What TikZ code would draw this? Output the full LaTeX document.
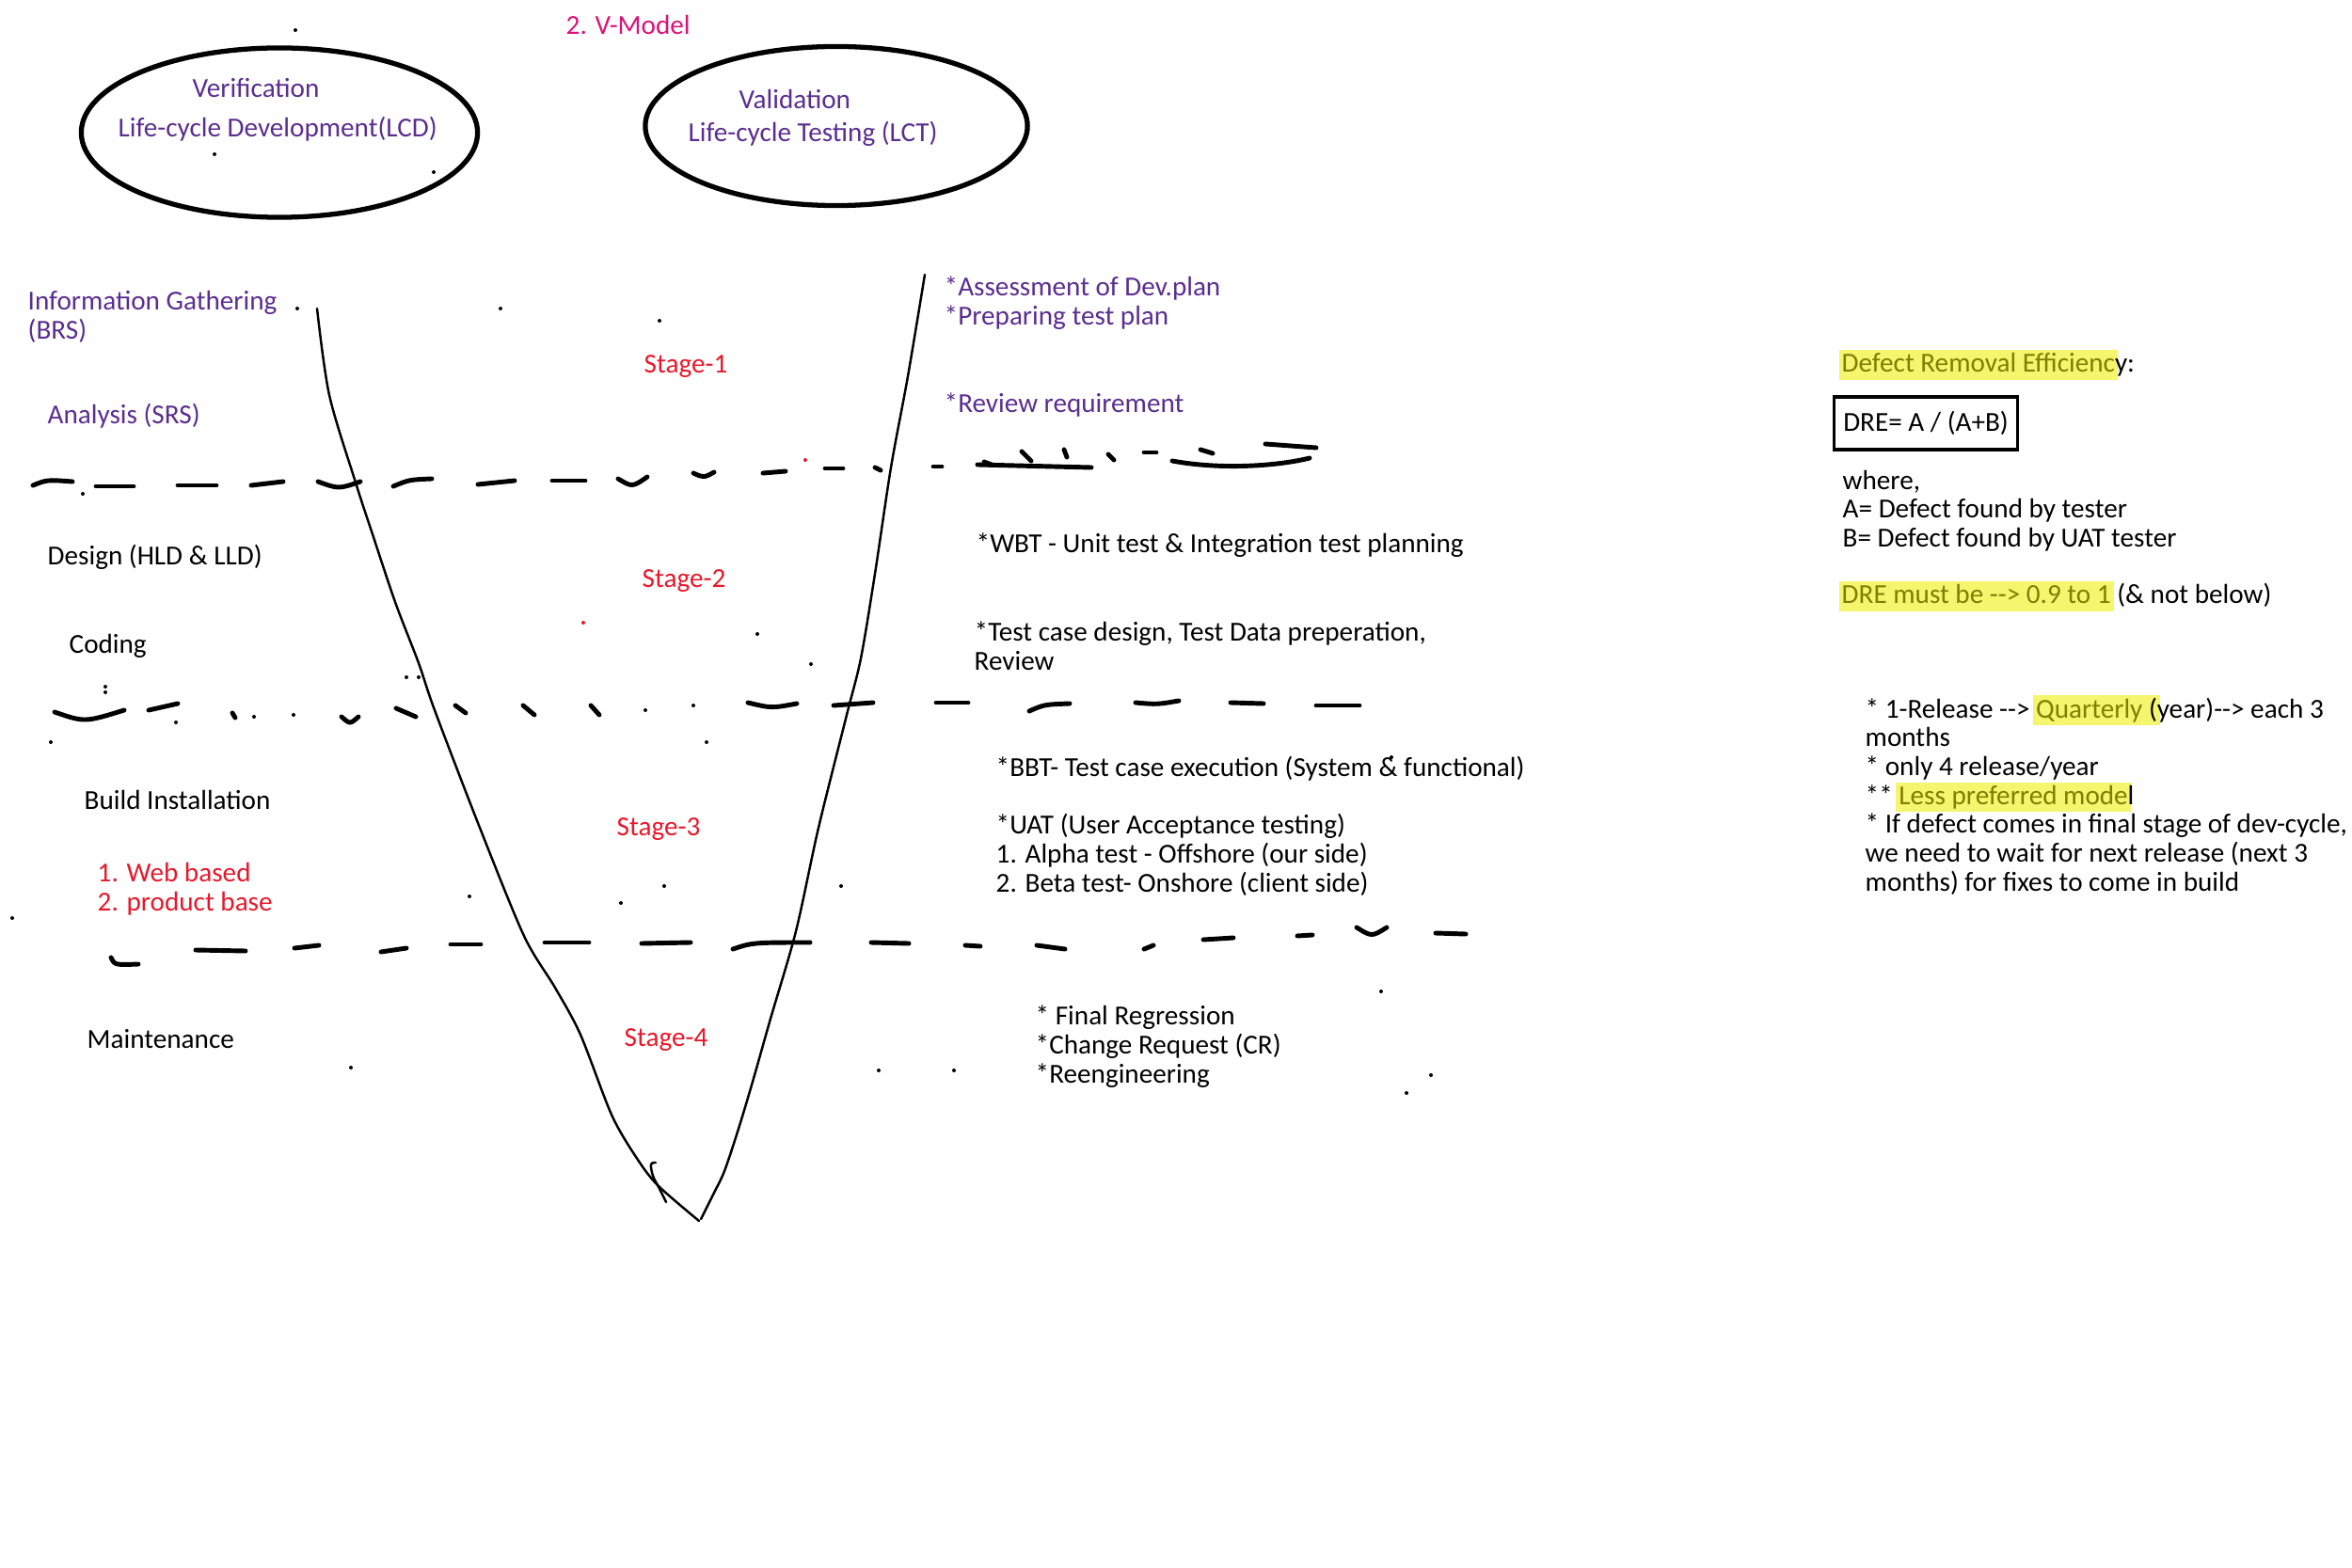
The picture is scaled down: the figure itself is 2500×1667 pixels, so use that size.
\documentclass[tikz,border=0pt]{standalone}
\usepackage{fontspec}
\setmainfont{Carlito}
\usetikzlibrary{shapes.geometric}
\definecolor{vpurple}{HTML}{5B2D90}
\definecolor{vred}{HTML}{E8182C}
\definecolor{vmag}{HTML}{DD1177}
\definecolor{volive}{HTML}{7F7F00}
\definecolor{hlyel}{HTML}{F5F56E}
\newcommand\hlbox[1]{{\setlength{\fboxsep}{0.9pt}\hspace{-0.9pt}\colorbox{hlyel}{\vphantom{Qy}#1}\hspace{-0.9pt}}}
\begin{document}
\begin{tikzpicture}[x=0.01cm,y=-0.01cm,
 lbl/.style={inner sep=0pt, anchor=west, align=left, font=\fontsize{8.3}{8.8}\selectfont},
 pur/.style={lbl, text=vpurple},
 redt/.style={lbl, text=vred},
 stagelbl/.style={inner sep=0pt, text=vred, font=\fontsize{8.3}{8.8}\selectfont},
 panel/.style={lbl, font=\fontsize{8.3}{8.6}\selectfont},
 vline/.style={line width=0.7pt, line cap=round, line join=round},
 dsh/.style={line width=1.4pt, line cap=round},
 ell/.style={draw, ellipse, line width=1.5pt, inner sep=0pt},
 dotp/.style={fill=black},
 dotr/.style={fill=vred}
]
\useasboundingbox[fill=white] (0,0) rectangle (2500,1667);

% title
\node[lbl, text=vmag] (title) at (601,26) {2. V-Model};

% ellipses
\node[ell, minimum width=4.21cm, minimum height=1.80cm] (ellL) at (297,141) {};
\node[ell, minimum width=4.06cm, minimum height=1.69cm] (ellR) at (889,134) {};
\node[pur] (verif) at (204,94) {Verification};
\node[pur] (lcd) at (125,137) {Life-cycle Development(LCD)};
\node[pur] (valid) at (785,105) {Validation};
\node[pur] (lct) at (731,142) {Life-cycle Testing (LCT)};

% left phases
\node[pur] (info) at (29,337) {Information Gathering\\(BRS)};
\node[pur] (anal) at (50,442) {Analysis (SRS)};
\node[lbl] (design) at (50,592) {Design (HLD \& LLD)};
\node[lbl] (coding) at (73,687) {Coding};
\node[lbl] (build) at (89,850) {Build Installation};
\node[redt] (web) at (103,945) {1. Web based\\2. product base};
\node[lbl] (maint) at (92,1105) {Maintenance};

% stages
\node[stagelbl] (st1) at (729,390) {Stage-1};
\node[stagelbl] (st2) at (727,618) {Stage-2};
\node[stagelbl] (st3) at (700,882) {Stage-3};
\node[stagelbl] (st4) at (708,1106) {Stage-4};

% right side testing activities
\node[pur] (assess) at (1003,322) {*Assessment of Dev.plan\\*Preparing test plan};
\node[pur] (revreq) at (1003,430) {*Review requirement};
\node[lbl] (wbt) at (1037,580) {*WBT - Unit test \& Integration test planning};
\node[lbl] (tcd) at (1035,687) {*Test case design, Test Data preperation,\\Review};
\node[lbl] (bbt) at (1058,817) {*BBT- Test case execution (System \& functional)};
\node[lbl] (uat) at (1058,909) {*UAT (User Acceptance testing)\\1. Alpha test - Offshore (our side)\\2. Beta test- Onshore (client side)};
\node[lbl] (final) at (1100,1113) {* Final Regression\\*Change Request (CR)\\*Reengineering};

% DRE panel
\node[panel] (dreh) at (1957,388) {\hlbox{\textcolor{volive}{Defect Removal Efficienc}}y:};
\node[draw, line width=1pt, inner sep=0pt, minimum width=1.95cm, minimum height=0.56cm,
      font=\fontsize{8.3}{8.8}\selectfont] (drebox) at (2047,450) {DRE= A / (A+B)};
\node[panel] (where) at (1958,543) {where,\\A= Defect found by tester\\B= Defect found by UAT tester};
\node[panel] (drem) at (1957,634) {\hlbox{\textcolor{volive}{DRE must be -{}-> 0.9 to 1}} (\& not below)};
\node[panel, font=\fontsize{8.3}{8.73}\selectfont] (rel) at (1982,845)
 {* 1-Release -{}-> \hlbox{\textcolor{volive}{Quarterly} (}year)-{}-> each 3\\months\\* only 4 release/year\\** \hlbox{\textcolor{volive}{Less preferred mode}}l\\* If defect comes in final stage of dev-cycle,\\we need to wait for next release (next 3\\months) for fixes to come in build};

% V shape
\draw[vline] plot[smooth, tension=0.5] coordinates {(337,328) (350,420) (378,513) (395,565) (420,640) (445,705) (462,755) (510,880) (557,995) (590,1050) (617,1100) (650,1185) (676,1230) (699,1260) (743,1298)};
\draw[vline] plot[smooth, tension=0.5] coordinates {(983,292) (965,400) (947,497) (930,610) (915,700) (900,760) (870,880) (846,990) (819,1083) (800,1150) (785,1200) (770,1245) (758,1270) (745,1296)};
\draw[vline] plot[smooth, tension=0.6] coordinates {(697,1236) (692,1238) (694,1250) (700,1262) (708,1278)};

% dashed line 1
\draw[dsh] (35,516) .. controls (50,510) .. (77,512);
\draw[dsh] (102,517) -- (142,517);
\draw[dsh] (189,516) -- (230,516);
\draw[dsh] (267,516) -- (301,512);
\draw[dsh] (338,512) .. controls (360,520) .. (383,512);
\draw[dsh] (418,517) .. controls (435,510) .. (459,509);
\draw[dsh] (508,515) -- (547,511);
\draw[dsh] (587,511) -- (622,511);
\draw[dsh] (657,509) .. controls (672,518) .. (688,507);
\draw[dsh] (737,503) .. controls (748,508) .. (759,502);
\draw[dsh] (811,503) -- (835,501);
\draw[dsh] (877,498) -- (896,498);
\draw[dsh] (930,497) -- (936,500);
\draw[dsh] (992,496) -- (1001,496);
\draw[dsh] (1039,494) -- (1160,497);
\draw[dsh] (1046,491) -- (1054,494);
\draw[dsh] (1086,480) -- (1096,490);
\draw[dsh] (1131,478) -- (1134,486);
\draw[dsh] (1178,483) -- (1184,489);
\draw[dsh] (1216,481) -- (1229,481);
\draw[dsh] (1276,478) -- (1289,482);
\draw[dsh] (1246,490) .. controls (1300,500) and (1360,495) .. (1392,487);
\draw[dsh] (1345,472) .. controls (1372,474) .. (1399,476);

% dashed line 2
\draw[dsh] (58,757) .. controls (90,768) .. (132,755);
\draw[dsh] (158,755) -- (189,748);
\draw[dsh] (247,758) -- (250,763);
\draw[dsh] (363,762) .. controls (372,770) .. (381,762);
\draw[dsh] (421,753) -- (442,762);
\draw[dsh] (484,750) -- (495,758);
\draw[dsh] (556,750) -- (568,760);
\draw[dsh] (628,750) -- (637,760);
\draw[dsh] (795,747) .. controls (820,753) .. (847,748);
\draw[dsh] (886,750) -- (928,747);
\draw[dsh] (995,747) -- (1029,747);
\draw[dsh] (1094,756) .. controls (1110,749) .. (1137,748);
\draw[dsh] (1207,747) .. controls (1230,749) .. (1253,745);
\draw[dsh] (1308,747) -- (1343,748);
\draw[dsh] (1399,750) -- (1445,750);

% dashed line 3
\draw[dsh] (118,1018) .. controls (122,1026) .. (147,1025);
\draw[dsh] (208,1010) -- (261,1011);
\draw[dsh] (313,1008) -- (339,1005);
\draw[dsh] (405,1012) -- (432,1008);
\draw[dsh] (479,1004) -- (511,1004);
\draw[dsh] (579,1002) -- (626,1002);
\draw[dsh] (682,1003) -- (734,1002);
\draw[dsh] (779,1009) .. controls (800,1002) .. (861,1002);
\draw[dsh] (926,1002) -- (966,1003);
\draw[dsh] (1026,1005) -- (1042,1006);
\draw[dsh] (1102,1005) -- (1132,1009);
\draw[dsh] (1216,1009) -- (1226,1005);
\draw[dsh] (1279,999) -- (1311,997);
\draw[dsh] (1379,995) -- (1395,994);
\draw[dsh] (1442,986) .. controls (1458,996) .. (1474,986);
\draw[dsh] (1526,992) -- (1558,993);

% stray dots
\foreach \p in {(314,32),(228,164),(461,183),(316,328),(532,328),(701,341),(805,674),(862,706),(432,720),(445,720),(112,730),(112,736),(54,789),(751,789),(1479,805),(499,953),(660,960),(706,942),(894,942),(13,976),(1468,1054),(373,1135),(934,1138),(1014,1138),(1521,1143),(1495,1162),(88,525),(187,768),(270,762),(312,760),(686,755),(737,750)}
  \fill[dotp] \p circle[radius=2];
\foreach \p in {(856,489),(620,662)}
  \fill[dotr] \p circle[radius=2];
\end{tikzpicture}
\end{document}
